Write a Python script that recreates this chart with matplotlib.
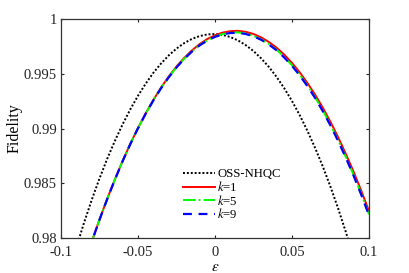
import numpy as np
import matplotlib
matplotlib.use("Agg")
import matplotlib.pyplot as plt

plt.rcParams['font.family'] = ['Liberation Serif', 'DejaVu Serif']
plt.rcParams['mathtext.fontset'] = 'stix'
plt.rcParams['axes.unicode_minus'] = False

# epsilon grids
eps_oss = np.round(np.arange(-0.09, 0.0901, 0.005), 3)
eps_k = np.round(np.arange(-0.085, 0.1001, 0.005), 3)

fid_oss = [0.97916, 0.98141, 0.98350, 0.98544, 0.98723, 0.98887, 0.99038, 0.99175,
           0.99299, 0.99410, 0.99509, 0.99594, 0.99668, 0.99730, 0.99780, 0.99818,
           0.99844, 0.99859, 0.99863, 0.99855, 0.99835, 0.99804, 0.99761, 0.99707,
           0.99640, 0.99562, 0.99471, 0.99367, 0.99251, 0.99122, 0.98979, 0.98823,
           0.98653, 0.98468, 0.98268, 0.98053, 0.97821]

fid_k1 = [0.97758, 0.97969, 0.98169, 0.98358, 0.98536, 0.98704, 0.98860, 0.99005,
          0.99139, 0.99262, 0.99375, 0.99476, 0.99566, 0.99645, 0.99713, 0.99771,
          0.99817, 0.99852, 0.99876, 0.99889, 0.99892, 0.99883, 0.99863, 0.99832,
          0.99790, 0.99738, 0.99674, 0.99599, 0.99513, 0.99416, 0.99309, 0.99190,
          0.99060, 0.98919, 0.98767, 0.98605, 0.98431, 0.98246]

fid_k5 = [0.97756, 0.97967, 0.98167, 0.98356, 0.98534, 0.98702, 0.98858, 0.99003,
          0.99136, 0.99258, 0.99369, 0.99470, 0.99559, 0.99637, 0.99704, 0.99761,
          0.99806, 0.99840, 0.99863, 0.99875, 0.99878, 0.99867, 0.99846, 0.99814,
          0.99772, 0.99719, 0.99653, 0.99577, 0.99491, 0.99393, 0.99285, 0.99164,
          0.99034, 0.98892, 0.98739, 0.98576, 0.98401, 0.98216]

fid_k9 = [0.97755, 0.97966, 0.98166, 0.98355, 0.98533, 0.98701, 0.98857, 0.99002,
          0.99135, 0.99257, 0.99368, 0.99468, 0.99557, 0.99635, 0.99702, 0.99759,
          0.99803, 0.99837, 0.99860, 0.99872, 0.99874, 0.99863, 0.99842, 0.99810,
          0.99767, 0.99714, 0.99648, 0.99572, 0.99485, 0.99387, 0.99279, 0.99158,
          0.99027, 0.98885, 0.98732, 0.98569, 0.98394, 0.98208]

labels = ['OSS-NHQC', r'$k$=1', r'$k$=5', r'$k$=9']
xticks = [-0.1, -0.05, 0, 0.05, 0.1]
xticklabels = ['-0.1', '-0.05', '0', '0.05', '0.1']
yticks = [0.98, 0.985, 0.99, 0.995, 1.0]
yticklabels = ['0.98', '0.985', '0.99', '0.995', '1']

fig = plt.figure(figsize=(4.09, 2.73), dpi=100)
ax = fig.add_axes([61/409, 35/273, 308/409, 219/273])

ax.plot(eps_oss, fid_oss, color='black', linestyle=(0, (1, 1)), lw=1.4, label=labels[0])
ax.plot(eps_k, fid_k1, color='#ff0000', linestyle='-', lw=1.4, label=labels[1])
ax.plot(eps_k, fid_k5, color='#00ff00', linestyle='-.', lw=1.4, label=labels[2])
ax.plot(eps_k, fid_k9, color='#0000ff', linestyle=(0, (4, 3)), lw=1.6, label=labels[3])

ax.set_xlim(-0.1, 0.1)
ax.set_ylim(0.98, 1.0)
ax.set_xticks(xticks)
ax.set_xticklabels(xticklabels)
ax.set_yticks(yticks)
ax.set_yticklabels(yticklabels)
ax.tick_params(direction='in', length=2.5, width=0.8, top=True, right=True,
               labelsize=10.5, colors='#222222')
ax.tick_params(axis='x', pad=5.5)
ax.tick_params(axis='y', pad=3)
for s in ax.spines.values():
    s.set_linewidth(0.9)
    s.set_color('#333333')

ax.set_xlabel(r'$\epsilon$', fontsize=11, labelpad=2)
ax.set_ylabel('Fidelity', fontsize=11.5, labelpad=1)

leg = ax.legend(loc='upper left', bbox_to_anchor=(0.397, 0.318), frameon=False,
                fontsize=9.2, handlelength=2.5, handletextpad=0.15, labelspacing=-0.03,
                borderpad=0, borderaxespad=0)

fig.savefig('out.png', dpi=100)
